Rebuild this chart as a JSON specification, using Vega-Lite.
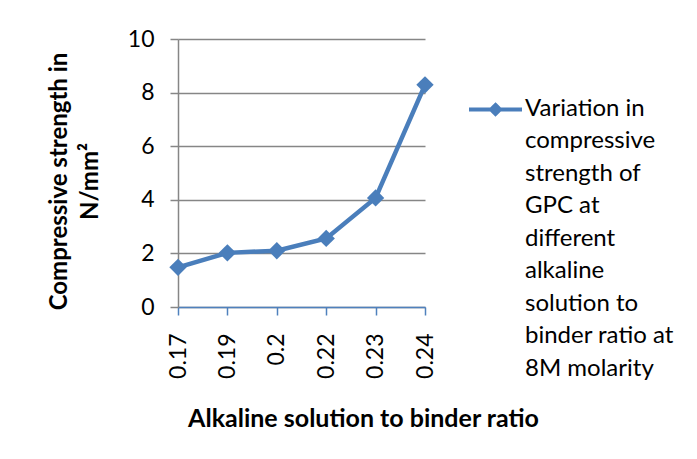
{
  "$schema": "https://vega.github.io/schema/vega-lite/v6.json",
  "autosize": "none",
  "width": 247,
  "height": 268,
  "padding": {"left": 178, "top": 39, "right": 272, "bottom": 152},
  "background": "white",
  "data": {
    "values": [
      {"ratio": "0.17", "strength": 1.48, "series": "Variation in compressive strength of GPC at different alkaline solution to binder ratio at 8M molarity"},
      {"ratio": "0.19", "strength": 2.02, "series": "Variation in compressive strength of GPC at different alkaline solution to binder ratio at 8M molarity"},
      {"ratio": "0.2", "strength": 2.1, "series": "Variation in compressive strength of GPC at different alkaline solution to binder ratio at 8M molarity"},
      {"ratio": "0.22", "strength": 2.56, "series": "Variation in compressive strength of GPC at different alkaline solution to binder ratio at 8M molarity"},
      {"ratio": "0.23", "strength": 4.07, "series": "Variation in compressive strength of GPC at different alkaline solution to binder ratio at 8M molarity"},
      {"ratio": "0.24", "strength": 8.29, "series": "Variation in compressive strength of GPC at different alkaline solution to binder ratio at 8M molarity"}
    ]
  },
  "encoding": {
    "x": {
      "field": "ratio", "type": "ordinal", "sort": null,
      "scale": {"type": "point", "padding": 0},
      "axis": {
        "title": "Alkaline solution to binder ratio",
        "labelAngle": -90, "labelAlign": "right", "labelBaseline": "middle",
        "labelFont": "Lato", "labelFontSize": 23, "labelColor": "black", "labelPadding": 18,
        "domainColor": "#4F81BD", "domainWidth": 1.5, "tickColor": "#4F81BD", "tickSize": 8, "tickWidth": 1.5,
        "titleFont": "Lato", "titleFontSize": 25, "titleFontWeight": "bold", "titleColor": "black",
        "titleX": 185, "titleY": 111, "titleAlign": "center", "titleBaseline": "middle",
        "grid": false
      }
    },
    "y": {
      "field": "strength", "type": "quantitative",
      "scale": {"domain": [0, 10], "nice": false},
      "axis": {
        "title": ["Compressive strength in", "N/mm²"],
        "values": [0, 2, 4, 6, 8, 10],
        "labelFont": "Lato", "labelFontSize": 23, "labelColor": "black", "labelPadding": 16,
        "domainColor": "#868686", "domainWidth": 1.5, "tickColor": "#868686", "tickSize": 8, "tickWidth": 1.5,
        "gridColor": "#868686", "gridWidth": 1.5,
        "titleFont": "Lato", "titleFontSize": 24, "titleFontWeight": "bold", "titleColor": "black",
        "titleAngle": -90, "titleX": -119, "titleY": 142, "titleAlign": "center", "titleBaseline": "middle",
        "titleLineHeight": 31
      }
    },
    "color": {
      "field": "series", "type": "nominal",
      "scale": {"range": ["#4A7EBB"]},
      "legend": {
        "title": null,
        "orient": "none", "legendX": 289, "legendY": 42,
        "symbolType": "M-1,0L1,0M0,-0.17L0.17,0L0,0.17L-0.17,0Z",
        "symbolSize": 2809,
        "symbolStrokeWidth": 4,
        "symbolStrokeColor": "#4A7EBB",
        "symbolFillColor": "#4A7EBB",
        "labelFont": "Lato", "labelFontSize": 24, "labelColor": "black",
        "labelLimit": 400, "labelOffset": 1, "labelBaseline": "top",
        "labelExpr": "['Variation in','compressive','strength of','GPC at','different','alkaline','solution to','binder ratio at','8M molarity']",
        "encode": {"labels": {"update": {"lineHeight": {"value": 32.5}, "dy": {"value": -13}}}}
      }
    }
  },
  "layer": [
    {"mark": {"type": "line", "strokeWidth": 4.5}},
    {"mark": {"type": "point", "shape": "diamond", "filled": true, "opacity": 1, "size": 300}}
  ],
  "config": {"view": {"stroke": null}}
}
